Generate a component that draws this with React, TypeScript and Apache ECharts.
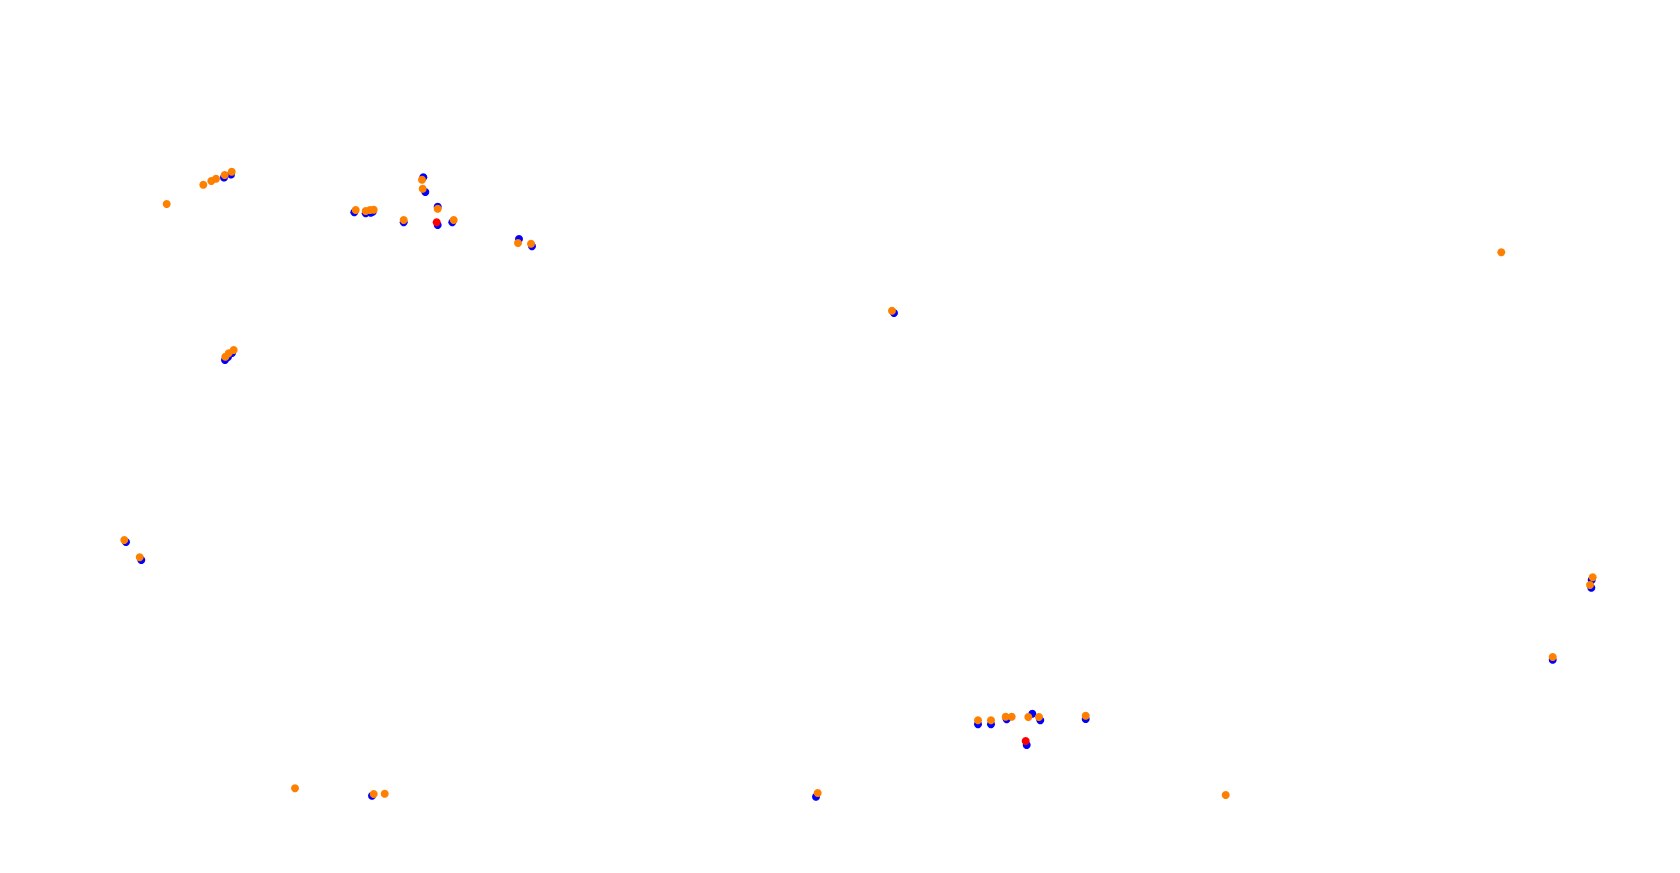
import React, { useEffect, useRef } from "react";
import * as echarts from "echarts";

// Track positions (plane coordinates, origin top-left)
const bluePoints: [number, number][] = [
  [224, 177.5], [231, 174.5],
  [354.3, 212.3], [365.7, 213.3], [370.7, 212.7], [372.7, 211.7],
  [403.7, 222.3], [423.3, 177.3], [425.3, 192], [437.7, 206.7], [437.7, 225], [452.3, 222.3],
  [519, 239], [532, 246.3],
  [894, 313],
  [225, 360], [228, 357], [232, 353],
  [126, 542], [141.3, 560],
  [372, 795.7],
  [816, 796.7],
  [978, 724.3], [991, 724.3], [1006.7, 719.3], [1032.3, 713.7], [1040.3, 720.3], [1085.7, 719], [1026.7, 745],
  [1591.3, 587.7], [1591.7, 580], [1552.7, 659.7],
];

const redPoints: [number, number][] = [
  [436.7, 222.3],
  [1025.7, 741],
];

const orangePoints: [number, number][] = [
  [166.7, 204], [203.3, 184.7], [211.3, 181], [216, 178.7], [224.7, 175], [231.7, 171.7],
  [355.7, 210], [365.7, 211], [370, 210], [373.7, 209.7],
  [403.7, 220], [422, 179.7], [422.7, 188.7], [437.7, 208.7], [453.7, 220],
  [518, 243], [531, 243.7],
  [892, 310.7],
  [225.3, 356.7], [228.7, 353.3], [233.7, 350],
  [124.3, 540], [139.7, 557.3],
  [295, 788.3], [373.7, 794], [384.7, 793.7],
  [817.7, 793],
  [978, 720.3], [991, 720.3], [1005.7, 716.7], [1011.7, 716.7], [1028.3, 717], [1039, 717], [1085.7, 715.7],
  [1225.7, 795],
  [1501.3, 252.3],
  [1592.7, 577.3], [1590, 585], [1552.7, 657],
];

const seriesNames = ["blue", "red", "orange"];
const seriesColors = ["#0000ff", "#ff0000", "#ff8000"];

export default function App() {
  const ref = useRef<HTMLDivElement>(null);
  useEffect(() => {
    if (!ref.current) return;
    const chart = echarts.init(ref.current, undefined, { renderer: "svg" });
    const datasets = [bluePoints, redPoints, orangePoints];
    chart.setOption({
      animation: false,
      backgroundColor: "#ffffff",
      grid: { left: 0, right: 0, top: 0, bottom: 0 },
      xAxis: { type: "value", min: 0, max: 1680, show: false },
      yAxis: { type: "value", min: 0, max: 873, inverse: true, show: false },
      series: datasets.map((d, i) => ({
        name: seriesNames[i],
        type: "scatter",
        data: d,
        symbol: "circle",
        symbolSize: 8,
        itemStyle: { color: seriesColors[i], opacity: 1 },
        z: i + 2,
      })),
    });
    return () => chart.dispose();
  }, []);
  return (
    <div
      ref={ref}
      style={{ position: "fixed", left: 0, top: 0, width: 1680, height: 873 }}
    />
  );
}
